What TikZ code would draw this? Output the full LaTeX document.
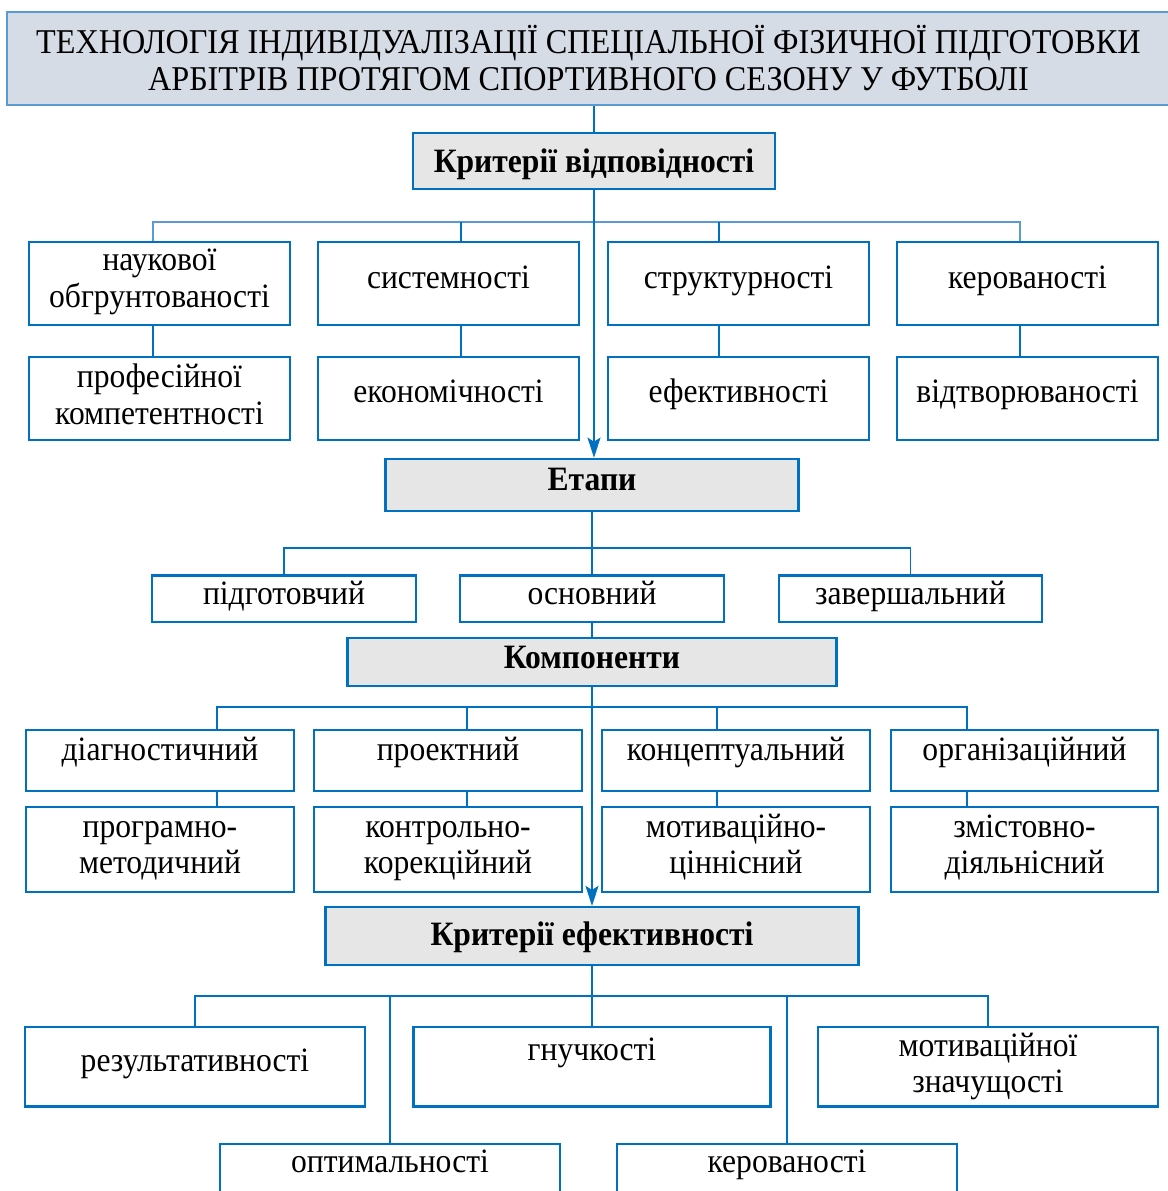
\documentclass[tikz,border=0pt]{standalone}
\usepackage{fontspec}
\setmainfont{Liberation Serif}
\usetikzlibrary{arrows.meta}
\definecolor{bblue}{RGB}{0,112,192}
\definecolor{lblue}{RGB}{91,155,213}
\definecolor{tfill}{RGB}{214,220,229}
\definecolor{gfill}{RGB}{230,230,230}
\newcommand{\bl}[2]{\raisebox{-#1pt}[0pt][0pt]{\scalebox{1}[1.08]{#2}}}
\newcommand{\blt}[3]{\raisebox{-#1pt}[0pt][0pt]{\scalebox{1}[1.08]{\begin{tabular}[b]{@{}c@{}}#2\\#3\end{tabular}}}}
\tikzset{
  box/.style={draw=bblue, line width=2.2pt, fill=white, inner sep=0pt,
    font=\fontsize{31.6}{33.4}\selectfont},
  gbox/.style={box, fill=gfill, font=\fontsize{31.6}{33.4}\selectfont\bfseries},
  tbox/.style={draw=lblue, line width=2.2pt, fill=tfill, inner sep=0pt,
    font=\fontsize{32.2}{34.6}\selectfont},
  conn/.style={draw=bblue, line width=1.8pt},
  arr/.style={conn, -{Stealth[length=20pt,width=13pt,inset=4pt]}}
}
\begin{document}
\begin{tikzpicture}[x=1pt,y=-1pt]
\useasboundingbox (0,0) rectangle (1167,1191);
% title
\node[tbox, minimum width=1163, minimum height=93] (title) at (588.5,58.5)
  {\blt{32.2}{ТЕХНОЛОГІЯ ІНДИВІДУАЛІЗАЦІЇ СПЕЦІАЛЬНОЇ ФІЗИЧНОЇ ПІДГОТОВКИ}{АРБІТРІВ ПРОТЯГОМ СПОРТИВНОГО СЕЗОНУ У ФУТБОЛІ}};
% criteria of conformity
\node[gbox, minimum width=362, minimum height=56] (kv) at (594,161) {\bl{11}{Критерії відповідності}};
\node[box, minimum width=261, minimum height=83] (c1) at (159.5,283.5) {\blt{23.5}{наукової}{обгрунтованості}};
\node[box, minimum width=261, minimum height=83] (c2) at (448.5,283.5) {\bl{4.5}{системності}};
\node[box, minimum width=261, minimum height=83] (c3) at (738.5,283.5) {\bl{4.5}{структурності}};
\node[box, minimum width=261, minimum height=83] (c4) at (1027.5,283.5) {\bl{4.5}{керованості}};
\node[box, minimum width=261, minimum height=83] (d1) at (159.5,398.5) {\blt{25.5}{професійної}{компетентності}};
\node[box, minimum width=261, minimum height=83] (d2) at (448.5,398.5) {\bl{3.5}{економічності}};
\node[box, minimum width=261, minimum height=83] (d3) at (738.5,398.5) {\bl{3.5}{ефективності}};
\node[box, minimum width=261, minimum height=83] (d4) at (1027.5,398.5) {\bl{3.5}{відтворюваності}};
% stages
\node[gbox, minimum width=413, minimum height=52.5] (et) at (592,485) {\bl{5}{Етапи}};
\node[box, minimum width=264, minimum height=46.5] (s1) at (284,598.75) {\bl{6}{підготовчий}};
\node[box, minimum width=264, minimum height=46.5] (s2) at (592,598.75) {\bl{6}{основний}};
\node[box, minimum width=263, minimum height=46.5] (s3) at (910.5,598.75) {\bl{6}{завершальний}};
% components
\node[gbox, minimum width=489, minimum height=48.5] (km) at (592,662) {\bl{6}{Компоненти}};
\node[box, minimum width=268, minimum height=61] (k1) at (160,760.5) {\bl{-0.5}{діагностичний}};
\node[box, minimum width=268, minimum height=61] (k2) at (448,760.5) {\bl{-0.5}{проектний}};
\node[box, minimum width=268, minimum height=61] (k3) at (736,760.5) {\bl{-0.5}{концептуальний}};
\node[box, minimum width=267, minimum height=61] (k4) at (1024.5,760.5) {\bl{-0.5}{організаційний}};
\node[box, minimum width=268, minimum height=85] (m1) at (160,849.5) {\blt{23.8}{програмно-}{методичний}};
\node[box, minimum width=268, minimum height=85] (m2) at (448,849.5) {\blt{23.8}{контрольно-}{корекційний}};
\node[box, minimum width=268, minimum height=85] (m3) at (736,849.5) {\blt{23.8}{мотиваційно-}{ціннісний}};
\node[box, minimum width=267, minimum height=85] (m4) at (1024.5,849.5) {\blt{23.8}{змістовно-}{діяльнісний}};
% efficiency criteria
\node[gbox, minimum width=533, minimum height=58] (ke) at (592,936) {\bl{9}{Критерії ефективності}};
\node[box, minimum width=340, minimum height=79.5] (r1) at (195,1066.75) {\bl{5}{результативності}};
\node[box, minimum width=357, minimum height=79.5] (r2) at (592,1066.75) {\bl{-6.75}{гнучкості}};
\node[box, minimum width=340, minimum height=79.5] (r3) at (988,1066.75) {\blt{26}{мотиваційної}{значущості}};
\node[box, minimum width=340, minimum height=86] (o1) at (390,1187) {\bl{-14.3}{оптимальності}};
\node[box, minimum width=340, minimum height=86] (o2) at (787,1187) {\bl{-14.3}{керованості}};
% junction coordinates
\coordinate (bus1) at (594,222);
\coordinate (bus2) at (592,548);
\coordinate (bus3) at (592,707);
\coordinate (bus4) at (592,996);
% connectors: level 1
\draw[conn] (kv.north |- title.south) -- (kv.north);
\draw[conn, draw=lblue] ([xshift=-6.5]c1.north) |- (bus1) -| ([xshift=-7.5]c4.north);
\draw[conn] ([xshift=12.5]c2.north) -- ([xshift=12.5]c2.north |- bus1);
\draw[conn] ([xshift=-19.5]c3.north) -- ([xshift=-19.5]c3.north |- bus1);
\draw[conn] ([xshift=-6.5]c1.south) -- ([xshift=-6.5]d1.north);
\draw[conn] ([xshift=12.5]c2.south) -- ([xshift=12.5]d2.north);
\draw[conn] ([xshift=-19.5]c3.south) -- ([xshift=-19.5]d3.north);
\draw[conn] ([xshift=-7.5]c4.south) -- ([xshift=-7.5]d4.north);
\draw[arr] (kv.south) -- (kv.south |- et.north);
% stages
\draw[conn] (et.south) -- (s2.north);
\draw[conn] (s1.north) |- (bus2) -| (s3.north);
\draw[conn] (s2.south) -- (km.north);
% components
\draw[conn] ([xshift=57]k1.north) |- (bus3) -| ([xshift=-57.5]k4.north);
\draw[conn] ([xshift=19]k2.north) -- ([xshift=19]k2.north |- bus3);
\draw[conn] ([xshift=-19]k3.north) -- ([xshift=-19]k3.north |- bus3);
\draw[conn] ([xshift=57]k1.south) -- ([xshift=57]m1.north);
\draw[conn] ([xshift=19]k2.south) -- ([xshift=19]m2.north);
\draw[conn] ([xshift=-19]k3.south) -- ([xshift=-19]m3.north);
\draw[conn] ([xshift=-57.5]k4.south) -- ([xshift=-57.5]m4.north);
\draw[arr] (km.south) -- (ke.north);
% efficiency
\draw[conn] (ke.south) -- (r2.north);
\draw[conn] (r1.north) |- (bus4) -| (r3.north);
\draw[conn] (o1.north) -- (o1.north |- bus4);
\draw[conn] (o2.north) -- (o2.north |- bus4);
\end{tikzpicture}
\end{document}
